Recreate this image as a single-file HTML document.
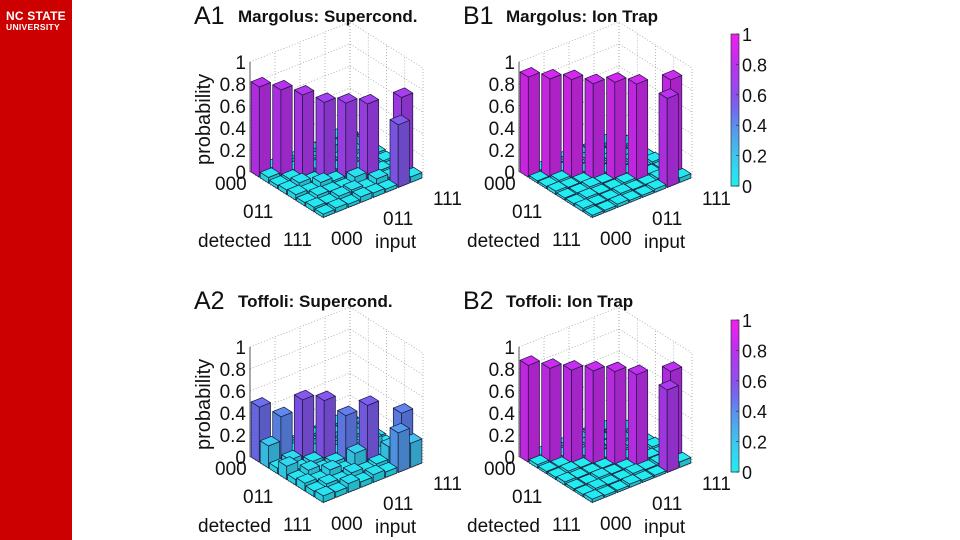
<!DOCTYPE html>
<html><head><meta charset="utf-8">
<style>
html,body{margin:0;padding:0;background:#fff;}
body{width:960px;height:540px;overflow:hidden;position:relative;font-family:"Liberation Sans",sans-serif;}
#side{position:absolute;left:0;top:0;width:72px;height:540px;background:#cc0000;}
#logo1{position:absolute;left:6px;top:9px;color:#fff;font-weight:bold;font-size:12px;letter-spacing:0.2px;}
#logo2{position:absolute;left:6px;top:22px;color:#fff;font-weight:bold;font-size:8.5px;letter-spacing:0.3px;}
svg{position:absolute;left:0;top:0;}
</style></head>
<body>
<div id="side">
<div id="logo1">NC STATE</div>
<div id="logo2">UNIVERSITY</div>
</div>
<svg id="chart" width="960" height="540"></svg>
<script>
// main bars at (0,0)..(5,5),(6,7),(7,6)
const a1Main = [0.82, 0.80, 0.76, 0.70, 0.70, 0.70, 0.72, 0.57];
const b1Main = [0.91, 0.90, 0.90, 0.87, 0.89, 0.88, 0.88, 0.81];
const a2Main = [0.50, 0.42, 0.58, 0.58, 0.45, 0.55, 0.44, 0.36];
const b2Main = [0.88, 0.86, 0.85, 0.85, 0.85, 0.83, 0.82, 0.75];
// off-diagonal background (rows: detected 000..111, cols: input 000..111)
const a1Off = [
 [0,0.04,0.05,0.03,0.06,0.04,0.08,0.05],
 [0.05,0,0.03,0.06,0.04,0.10,0.05,0.04],
 [0.03,0.04,0,0.05,0.03,0.04,0.06,0.12],
 [0.04,0.06,0.03,0,0.05,0.03,0.04,0.05],
 [0.05,0.03,0.07,0.04,0,0.05,0.03,0.04],
 [0.03,0.05,0.04,0.03,0.08,0,0.05,0.03],
 [0.04,0.03,0.05,0.06,0.03,0.07,0.04,0],
 [0.03,0.04,0.03,0.05,0.04,0.03,0,0.05]];
const b1Off = [
 [0,0.02,0.02,0.03,0.02,0.02,0.03,0.02],
 [0.02,0,0.02,0.02,0.03,0.02,0.02,0.03],
 [0.02,0.03,0,0.02,0.02,0.03,0.02,0.02],
 [0.03,0.02,0.02,0,0.02,0.02,0.03,0.02],
 [0.02,0.02,0.03,0.02,0,0.02,0.02,0.03],
 [0.02,0.03,0.02,0.02,0.03,0,0.02,0.02],
 [0.03,0.02,0.02,0.03,0.02,0.02,0.03,0],
 [0.02,0.02,0.03,0.02,0.02,0.03,0,0.04]];
const a2Off = [
 [0,0.05,0.08,0.04,0.06,0.05,0.07,0.05],
 [0.20,0,0.06,0.10,0.05,0.08,0.06,0.05],
 [0.05,0.08,0,0.06,0.09,0.05,0.07,0.10],
 [0.12,0.05,0.07,0,0.06,0.08,0.05,0.06],
 [0.05,0.09,0.05,0.07,0,0.06,0.14,0.05],
 [0.07,0.05,0.10,0.05,0.16,0,0.06,0.08],
 [0.05,0.07,0.05,0.08,0.05,0.07,0.18,0],
 [0.06,0.05,0.08,0.05,0.07,0.05,0,0.22]];
const b2Off = [
 [0,0.02,0.03,0.02,0.02,0.03,0.02,0.02],
 [0.03,0,0.02,0.02,0.03,0.02,0.02,0.03],
 [0.02,0.02,0,0.03,0.02,0.02,0.03,0.02],
 [0.02,0.03,0.02,0,0.02,0.03,0.02,0.02],
 [0.03,0.02,0.02,0.02,0,0.02,0.02,0.03],
 [0.02,0.02,0.03,0.02,0.02,0,0.03,0.02],
 [0.02,0.03,0.02,0.02,0.03,0.02,0.03,0],
 [0.03,0.02,0.02,0.03,0.02,0.02,0,0.05]];
const zTicks = ["0","0.2","0.4","0.6","0.8","1"];
const cbTicks = ["0","0.2","0.4","0.6","0.8","1"];

const NS="http://www.w3.org/2000/svg";
const svg=document.getElementById('chart');
function el(tag,attrs,parent){const e=document.createElementNS(NS,tag);for(const k in attrs)e.setAttribute(k,attrs[k]);(parent||svg).appendChild(e);return e;}
function txt(s,x,y,size,opts,parent){const t=el('text',Object.assign({x:x,y:y,'font-size':size,'font-family':'"Liberation Sans",sans-serif',fill:'#111'},opts||{}),parent);t.textContent=s;return t;}

const stops=[[0,[30,240,240]],[0.2,[60,200,240]],[0.4,[90,145,240]],[0.5,[110,110,240]],[0.6,[140,80,240]],[0.8,[185,50,240]],[1,[240,30,240]]];
function cmap(v,sh){v=Math.max(0,Math.min(1,v));let i=0;while(i<stops.length-2&&v>stops[i+1][0])i++;
 const a=stops[i],b=stops[i+1];const t=(v-a[0])/(b[0]-a[0]);
 const c=a[1].map((x,k)=>Math.round((x+(b[1][k]-x)*t)*sh));return 'rgb('+c.join(',')+')';}

function panel(ox,oy,letter,title,mainV,off,showProb,name){
 const g=el('g',{});
 
 
 const L=[250+ox,172+oy],F=[323+ox,218+oy],R=[423+ox,178+oy],ZS=110;
 const P=(d,n,z)=>[L[0]+d*(F[0]-L[0])/8+n*(R[0]-F[0])/8, L[1]+d*(F[1]-L[1])/8+n*(R[1]-F[1])/8-z*ZS];
 const pt=p=>p[0].toFixed(1)+','+p[1].toFixed(1);
 const grid=el('g',{stroke:'#999','stroke-width':0.7,'stroke-dasharray':'1,2',fill:'none'},g);
 
 
 for(let k=0;k<=8;k+=2){
  let a=P(0,k,0),b=P(0,k,1);el('line',{x1:a[0],y1:a[1],x2:b[0],y2:b[1]},grid);
  a=P(k,8,0);b=P(k,8,1);el('line',{x1:a[0],y1:a[1],x2:b[0],y2:b[1]},grid);
  a=P(0,k,0);b=P(8,k,0);el('line',{x1:a[0],y1:a[1],x2:b[0],y2:b[1]},grid);
  a=P(k,0,0);b=P(k,8,0);el('line',{x1:a[0],y1:a[1],x2:b[0],y2:b[1]},grid);
 }
 for(let i=1;i<=5;i++){const z=i*0.2;
  let a=P(0,0,z),b=P(0,8,z),c=P(8,8,z);el('polyline',{points:pt(a)+' '+pt(b)+' '+pt(c)},grid);}
 const za=P(0,0,0),zb=P(0,0,1);
 el('line',{x1:za[0],y1:za[1],x2:zb[0],y2:zb[1],stroke:'#333','stroke-width':0.8},g);
 zTicks.forEach((s,i)=>{const p=P(0,0,i*0.2);const t=txt(s,p[0]-4,p[1]+7,19,{'text-anchor':'end'},g);
  });
 const bars=[];
 for(let d=0;d<8;d++)for(let n=0;n<8;n++)bars.push({d:d,n:n,v:off[d][n]});
 const mainPos=[[0,0],[1,1],[2,2],[3,3],[4,4],[5,5],[6,7],[7,6]];
 mainPos.forEach((p,i)=>{bars[p[0]*8+p[1]].v=mainV[i];});
 bars.sort((a,b)=>(a.d-a.n)-(b.d-b.n)||(a.d+a.n)-(b.d+b.n));
 const bg=el('g',{stroke:'#1a1a3a','stroke-width':0.7,'stroke-linejoin':'round'},g);
 bars.forEach(b=>{ if(b.v<=0)return;
  const d0=b.d+0.05,d1=b.d+0.95,n0=b.n+0.05,n1=b.n+0.95,z=b.v;
  const bar=el('g',{},bg);
  
  
  el('polygon',{points:[P(d0,n0,0),P(d1,n0,0),P(d1,n0,z),P(d0,n0,z)].map(pt).join(' '),fill:cmap(z,0.92)},bar);
  el('polygon',{points:[P(d1,n0,0),P(d1,n1,0),P(d1,n1,z),P(d1,n0,z)].map(pt).join(' '),fill:cmap(z,0.82)},bar);
  el('polygon',{points:[P(d0,n0,z),P(d1,n0,z),P(d1,n1,z),P(d0,n1,z)].map(pt).join(' '),fill:cmap(z,1)},bar);
 });
 const detPos=[[215,190],[243,218],[283,246]];
 ['000','011','111'].forEach((s,i)=>{
  const t=txt(s,detPos[i][0]+ox,detPos[i][1]+oy,19,{},g);
  });
 const dl=txt('detected',198+ox,247+oy,19,{},g);
 
 [[0,'000'],[4,'011'],[8,'111']].forEach(a=>{const p=P(8,a[0],0);
  const t=txt(a[1],p[0]+10+(a[0]==0?-2:0),p[1]+27,19,{'text-anchor':'start'},g);
  });
 const il=txt('input',375+ox,248+oy,19,{},g);
 
 if(showProb){const t=txt('probability',0,0,20,{transform:'translate('+(210+ox)+','+(165+oy)+') rotate(-90)'},g);
  }
 const tl=txt(letter,194+ox,24+oy,25,{},g);
 
 const tt=txt(title,238+ox+(letter[0]=='B'?-1:0),22+oy,17,{'font-weight':'bold'},g);
 
}
function colorbar(x,y,h,name){
 const g=el('g',{});
 
 
 for(let i=0;i<60;i++){const v=1-i/60;el('rect',{x:x,y:y+i*h/60,width:8,height:h/60+0.6,fill:cmap(v,1)},g);}
 el('rect',{x:x,y:y,width:8,height:h,fill:'none',stroke:'#333','stroke-width':0.7},g);
 cbTicks.forEach((s,i)=>{const yy=y+h-i*0.2*h;
  el('line',{x1:x+8,y1:yy,x2:x+5,y2:yy,stroke:'#333','stroke-width':0.7},g);
  const t=txt(s,x+11,yy+7,18,{},g);
  });
}
panel(0,0,'A1','Margolus: Supercond.',a1Main,a1Off,true,'panel-a1');
panel(269,0,'B1','Margolus: Ion Trap',b1Main,b1Off,false,'panel-b1');
panel(0,285,'A2','Toffoli: Supercond.',a2Main,a2Off,true,'panel-a2');
panel(269,285,'B2','Toffoli: Ion Trap',b2Main,b2Off,false,'panel-b2');
colorbar(731,34,152,'colorbar-top');
colorbar(731,320,152,'colorbar-bottom');
</script>
</body></html>
